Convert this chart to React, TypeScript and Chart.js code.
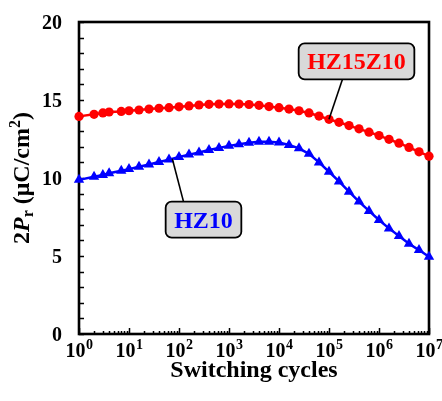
import React, { useEffect, useRef } from 'react';
import { Chart, registerables } from 'chart.js';
Chart.register(...registerables);

// Switching cycles (x values)
const cycles = [
  1, 2, 3, 4, 7, 10, 15.85, 25.12, 39.81, 63.1, 100, 158.5, 251.2, 398.1, 631, 1000,
  1585, 2512, 3981, 6310, 1e4, 1.585e4, 2.512e4, 3.981e4, 6.31e4, 1e5, 1.585e5, 2.512e5,
  3.981e5, 6.31e5, 1e6, 1.585e6, 2.512e6, 3.981e6, 6.31e6, 1e7,
];
// 2Pr of HZ15Z10 (red circles)
const hz15z10 = [
  13.95, 14.08, 14.17, 14.23, 14.27, 14.31, 14.36, 14.42, 14.47, 14.51, 14.56, 14.62,
  14.68, 14.72, 14.74, 14.75, 14.74, 14.71, 14.66, 14.58, 14.51, 14.42, 14.31, 14.17,
  13.97, 13.76, 13.57, 13.36, 13.15, 12.94, 12.72, 12.48, 12.23, 11.96, 11.68, 11.4,
];
// 2Pr of HZ10 (blue triangles)
const hz10 = [
  9.88, 10.08, 10.2, 10.3, 10.47, 10.57, 10.72, 10.87, 11.02, 11.18, 11.35, 11.5,
  11.64, 11.79, 11.93, 12.06, 12.17, 12.26, 12.32, 12.33, 12.27, 12.12, 11.9, 11.55,
  11.0, 10.4, 9.78, 9.12, 8.49, 7.89, 7.31, 6.77, 6.28, 5.78, 5.38, 4.95,
];
const yTickLabels = [0, 5, 10, 15, 20];
const yMinorTicks = [1, 2, 3, 4, 6, 7, 8, 9, 11, 12, 13, 14, 16, 17, 18, 19];
const xDecadeExponents = [0, 1, 2, 3, 4, 5, 6, 7];
const xMinorMultipliers = [2, 3, 4, 5, 6, 7, 8, 9];

const seriesNames = ['HZ15Z10', 'HZ10'];
const seriesColors = ['#ff0000', '#0000ff'];

// callouts: label box centre and leader line, in data coordinates
const callouts = [
  { text: 'HZ15Z10', color: '#ff0000', cx: 3.55e5, cy: 17.48, lx0: 1.86e5, lx1: 1e5, ly1: 13.76, fromTop: false },
  { text: 'HZ10', color: '#0000ff', cx: 309, cy: 7.33, lx0: 123, lx1: 73.5, ly1: 11.23, fromTop: true },
];

const FONT = '"Liberation Serif", "Times New Roman", serif';

const drawPlugin = {
  id: 'customDraw',
  beforeDatasetsDraw(chart: any) {
    const { ctx, chartArea: a, scales } = chart;
    const x = scales.x, y = scales.y;
    ctx.save();
    ctx.strokeStyle = '#000';
    ctx.lineWidth = 1.5;
    ctx.beginPath();
    yMinorTicks.concat(yTickLabels).forEach((v) => {
      const py = Math.round(y.getPixelForValue(v)) + 0.5;
      ctx.moveTo(a.left, py);
      ctx.lineTo(a.left + 5, py);
    });
    xDecadeExponents.forEach((e) => {
      const px = Math.round(x.getPixelForValue(Math.pow(10, e))) + 0.5;
      ctx.moveTo(px, a.bottom);
      ctx.lineTo(px, a.bottom - 6);
      if (e < 7) {
        xMinorMultipliers.forEach((m) => {
          const qx = Math.round(x.getPixelForValue(m * Math.pow(10, e))) + 0.5;
          ctx.moveTo(qx, a.bottom);
          ctx.lineTo(qx, a.bottom - 3);
        });
      }
    });
    ctx.stroke();
    ctx.lineWidth = 2.6;
    ctx.strokeRect(a.left, a.top, a.right - a.left, a.bottom - a.top);
    ctx.restore();
  },
  afterDatasetsDraw(chart: any) {
    const { ctx, chartArea: a, scales } = chart;
    const x = scales.x, y = scales.y;
    ctx.save();
    // callouts
    callouts.forEach((c) => {
      ctx.font = `bold 24px ${FONT}`;
      const tw = ctx.measureText(c.text).width;
      const w = tw + 17, h = 36;
      const cx = x.getPixelForValue(c.cx), cy = y.getPixelForValue(c.cy);
      const bx = cx - w / 2, by = cy - h / 2;
      // leader
      ctx.strokeStyle = '#000';
      ctx.lineWidth = 1.6;
      ctx.beginPath();
      ctx.moveTo(x.getPixelForValue(c.lx0), c.fromTop ? by : by + h);
      ctx.lineTo(x.getPixelForValue(c.lx1), y.getPixelForValue(c.ly1));
      ctx.stroke();
      // box
      ctx.beginPath();
      (ctx as any).roundRect(bx, by, w, h, 6);
      ctx.fillStyle = '#d9d9d9';
      ctx.fill();
      ctx.lineWidth = 1.8;
      ctx.stroke();
      ctx.fillStyle = c.color;
      ctx.textAlign = 'center';
      ctx.textBaseline = 'alphabetic';
      ctx.fillText(c.text, cx, cy + 8);
    });
    ctx.restore();
  },
  afterDraw(chart: any) {
    const { ctx, chartArea: a, scales } = chart;
    const x = scales.x, y = scales.y;
    ctx.save();
    ctx.fillStyle = '#000';
    // y tick labels
    ctx.font = `bold 20px ${FONT}`;
    ctx.textAlign = 'right';
    ctx.textBaseline = 'alphabetic';
    yTickLabels.forEach((v) => {
      ctx.fillText(String(v), a.left - 17, y.getPixelForValue(v) + 7);
    });
    // x tick labels 10^n
    xDecadeExponents.forEach((e) => {
      const px = x.getPixelForValue(Math.pow(10, e));
      ctx.font = `bold 20px ${FONT}`;
      const w1 = ctx.measureText('10').width;
      ctx.font = `bold 14px ${FONT}`;
      const w2 = ctx.measureText(String(e)).width;
      const left = px - (w1 + w2) / 2;
      ctx.textAlign = 'left';
      ctx.font = `bold 20px ${FONT}`;
      ctx.fillText('10', left, 357);
      ctx.font = `bold 14px ${FONT}`;
      ctx.fillText(String(e), left + w1 + 0.5, 349);
    });
    // x title
    ctx.font = `bold 24px ${FONT}`;
    ctx.textAlign = 'center';
    ctx.fillText('Switching cycles', (a.left + a.right) / 2, 377);
    // y title (rotated, rich text)
    const parts = [
      { t: '2', f: `bold 24px ${FONT}`, dy: 0 },
      { t: 'P', f: `italic bold 24px ${FONT}`, dy: 0 },
      { t: 'r', f: `bold 16px ${FONT}`, dy: 4 },
      { t: ' (\u03bcC/cm', f: `bold 24px ${FONT}`, dy: 0 },
      { t: '2', f: `bold 16px ${FONT}`, dy: -9 },
      { t: ')', f: `bold 24px ${FONT}`, dy: 0 },
    ];
    let total = 0;
    const widths = parts.map((p) => {
      ctx.font = p.f;
      const w = ctx.measureText(p.t).width;
      total += w;
      return w;
    });
    ctx.translate(29, (a.top + a.bottom) / 2);
    ctx.rotate(-Math.PI / 2);
    ctx.textAlign = 'left';
    let cur = -total / 2;
    parts.forEach((p, i) => {
      ctx.font = p.f;
      ctx.fillText(p.t, cur, p.dy);
      cur += widths[i];
    });
    ctx.restore();
  },
};

export default function App() {
  const ref = useRef<HTMLCanvasElement>(null);
  useEffect(() => {
    if (!ref.current) return;
    const chart = new Chart(ref.current, {
      type: 'line',
      data: {
        datasets: [
          {
            label: seriesNames[0],
            data: cycles.map((c, i) => ({ x: c, y: hz15z10[i] })),
            borderColor: seriesColors[0],
            backgroundColor: seriesColors[0],
            borderWidth: 2.5,
            pointStyle: 'circle',
            pointRadius: 4.6,
            pointBorderWidth: 0,
            tension: 0,
            clip: false as any,
          },
          {
            label: seriesNames[1],
            data: cycles.map((c, i) => ({ x: c, y: hz10[i] })),
            borderColor: seriesColors[1],
            backgroundColor: seriesColors[1],
            borderWidth: 2.5,
            pointStyle: 'triangle',
            pointRadius: 6,
            pointBorderWidth: 0,
            tension: 0,
            clip: false as any,
          },
        ],
      },
      options: {
        responsive: false,
        animation: false,
        devicePixelRatio: 1,
        layout: { padding: { left: 0, right: 13, top: 22, bottom: 0 } },
        plugins: { legend: { display: false }, tooltip: { enabled: false } },
        scales: {
          x: {
            type: 'logarithmic',
            min: 1,
            max: 1e7,
            grid: { display: false },
            border: { display: false },
            ticks: { display: false },
            afterFit(s: any) { s.height = 67; },
          },
          y: {
            type: 'linear',
            min: 0,
            max: 20,
            grid: { display: false },
            border: { display: false },
            ticks: { display: false },
            afterFit(s: any) { s.width = 79; },
          },
        },
      },
      plugins: [drawPlugin],
    } as any);
    return () => chart.destroy();
  }, []);
  return (
    <div style={{ position: 'fixed', left: 0, top: 0, width: 442, height: 401, background: '#fff' }}>
      <canvas ref={ref} width={442} height={401} style={{ display: 'block' }} />
    </div>
  );
}
